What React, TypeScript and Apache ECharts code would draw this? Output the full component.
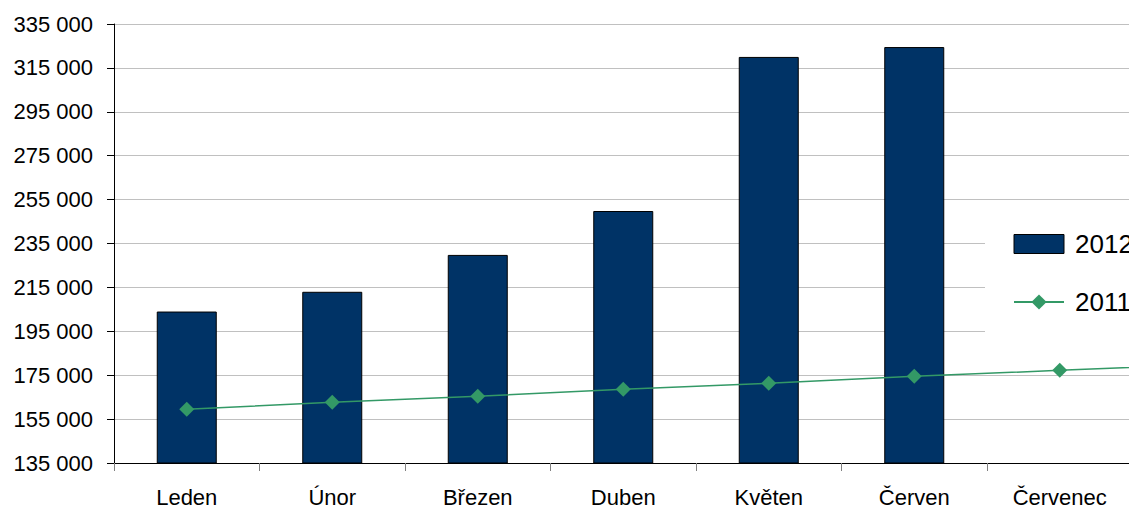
import React, { useEffect, useRef } from "react";
import * as echarts from "echarts";

const categories = ["Leden", "Únor", "Březen", "Duben", "Květen", "Červen", "Červenec", ""];
const values2012 = [204000, 213000, 229800, 249800, 320000, 324500, null, null];
const values2011 = [159500, 162700, 165400, 168600, 171300, 174500, 177200, 180000];
const yMin = 135000;
const yMax = 335000;
const yStep = 20000;

const FONT = "'Liberation Sans', Arial, sans-serif";

function fmt(v: number): string {
  return String(v).replace(/\B(?=(\d{3})+(?!\d))/g, " ");
}

export default function App() {
  const ref = useRef<HTMLDivElement>(null);
  useEffect(() => {
    if (!ref.current) return;
    const chart = echarts.init(ref.current, null, { renderer: "svg" });
    chart.setOption({
      animation: false,
      backgroundColor: "#ffffff",
      textStyle: { fontFamily: FONT },
      grid: { left: 114, top: 24, width: 1164, height: 441, containLabel: false },
      legend: {
        orient: "vertical",
        left: 985,
        top: 203,
        padding: [28, 40, 28, 28],
        itemGap: 32,
        itemWidth: 50,
        itemHeight: 19,
        backgroundColor: "#ffffff",
        textStyle: { fontSize: 26, color: "#000", fontFamily: FONT, padding: [0, 0, 0, 6] },
        data: [
          { name: "2012", icon: "rect", itemStyle: { borderColor: "#000", borderWidth: 1 } },
          { name: "2011" },
        ],
      },
      xAxis: {
        type: "category",
        data: categories,
        boundaryGap: true,
        axisLine: { lineStyle: { color: "#000", width: 1 } },
        axisTick: { show: true, interval: 0, length: 8, inside: false, lineStyle: { color: "#808080" } },
        axisLabel: { interval: 0, fontSize: 22, color: "#000", margin: 23, fontFamily: FONT },
        splitLine: { show: false },
      },
      yAxis: {
        type: "value",
        min: yMin,
        max: yMax,
        interval: yStep,
        axisLine: { show: true, lineStyle: { color: "#000", width: 1 } },
        axisTick: { show: true, length: 7, lineStyle: { color: "#000" } },
        axisLabel: { fontSize: 22, color: "#000", margin: 21, fontFamily: FONT, formatter: (v: number) => fmt(v) },
        splitLine: { show: true, lineStyle: { color: "#c0c0c0", width: 1 } },
      },
      series: [
        {
          name: "2012",
          type: "bar",
          data: values2012,
          barWidth: 60,
          itemStyle: { color: "#003366", borderColor: "#000", borderWidth: 1 },
          z: 2,
        },
        {
          name: "2011",
          type: "line",
          data: values2011,
          symbol: "diamond",
          symbolSize: 15,
          lineStyle: { color: "#339966", width: 1.5 },
          itemStyle: { color: "#339966" },
          z: 3,
        },
      ],
    });
    return () => chart.dispose();
  }, []);
  return (
    <div style={{ position: "fixed", left: 0, top: 0, width: 1129, height: 508, overflow: "hidden", background: "#fff" }}>
      <div ref={ref} style={{ width: 1300, height: 508 }} />
    </div>
  );
}
